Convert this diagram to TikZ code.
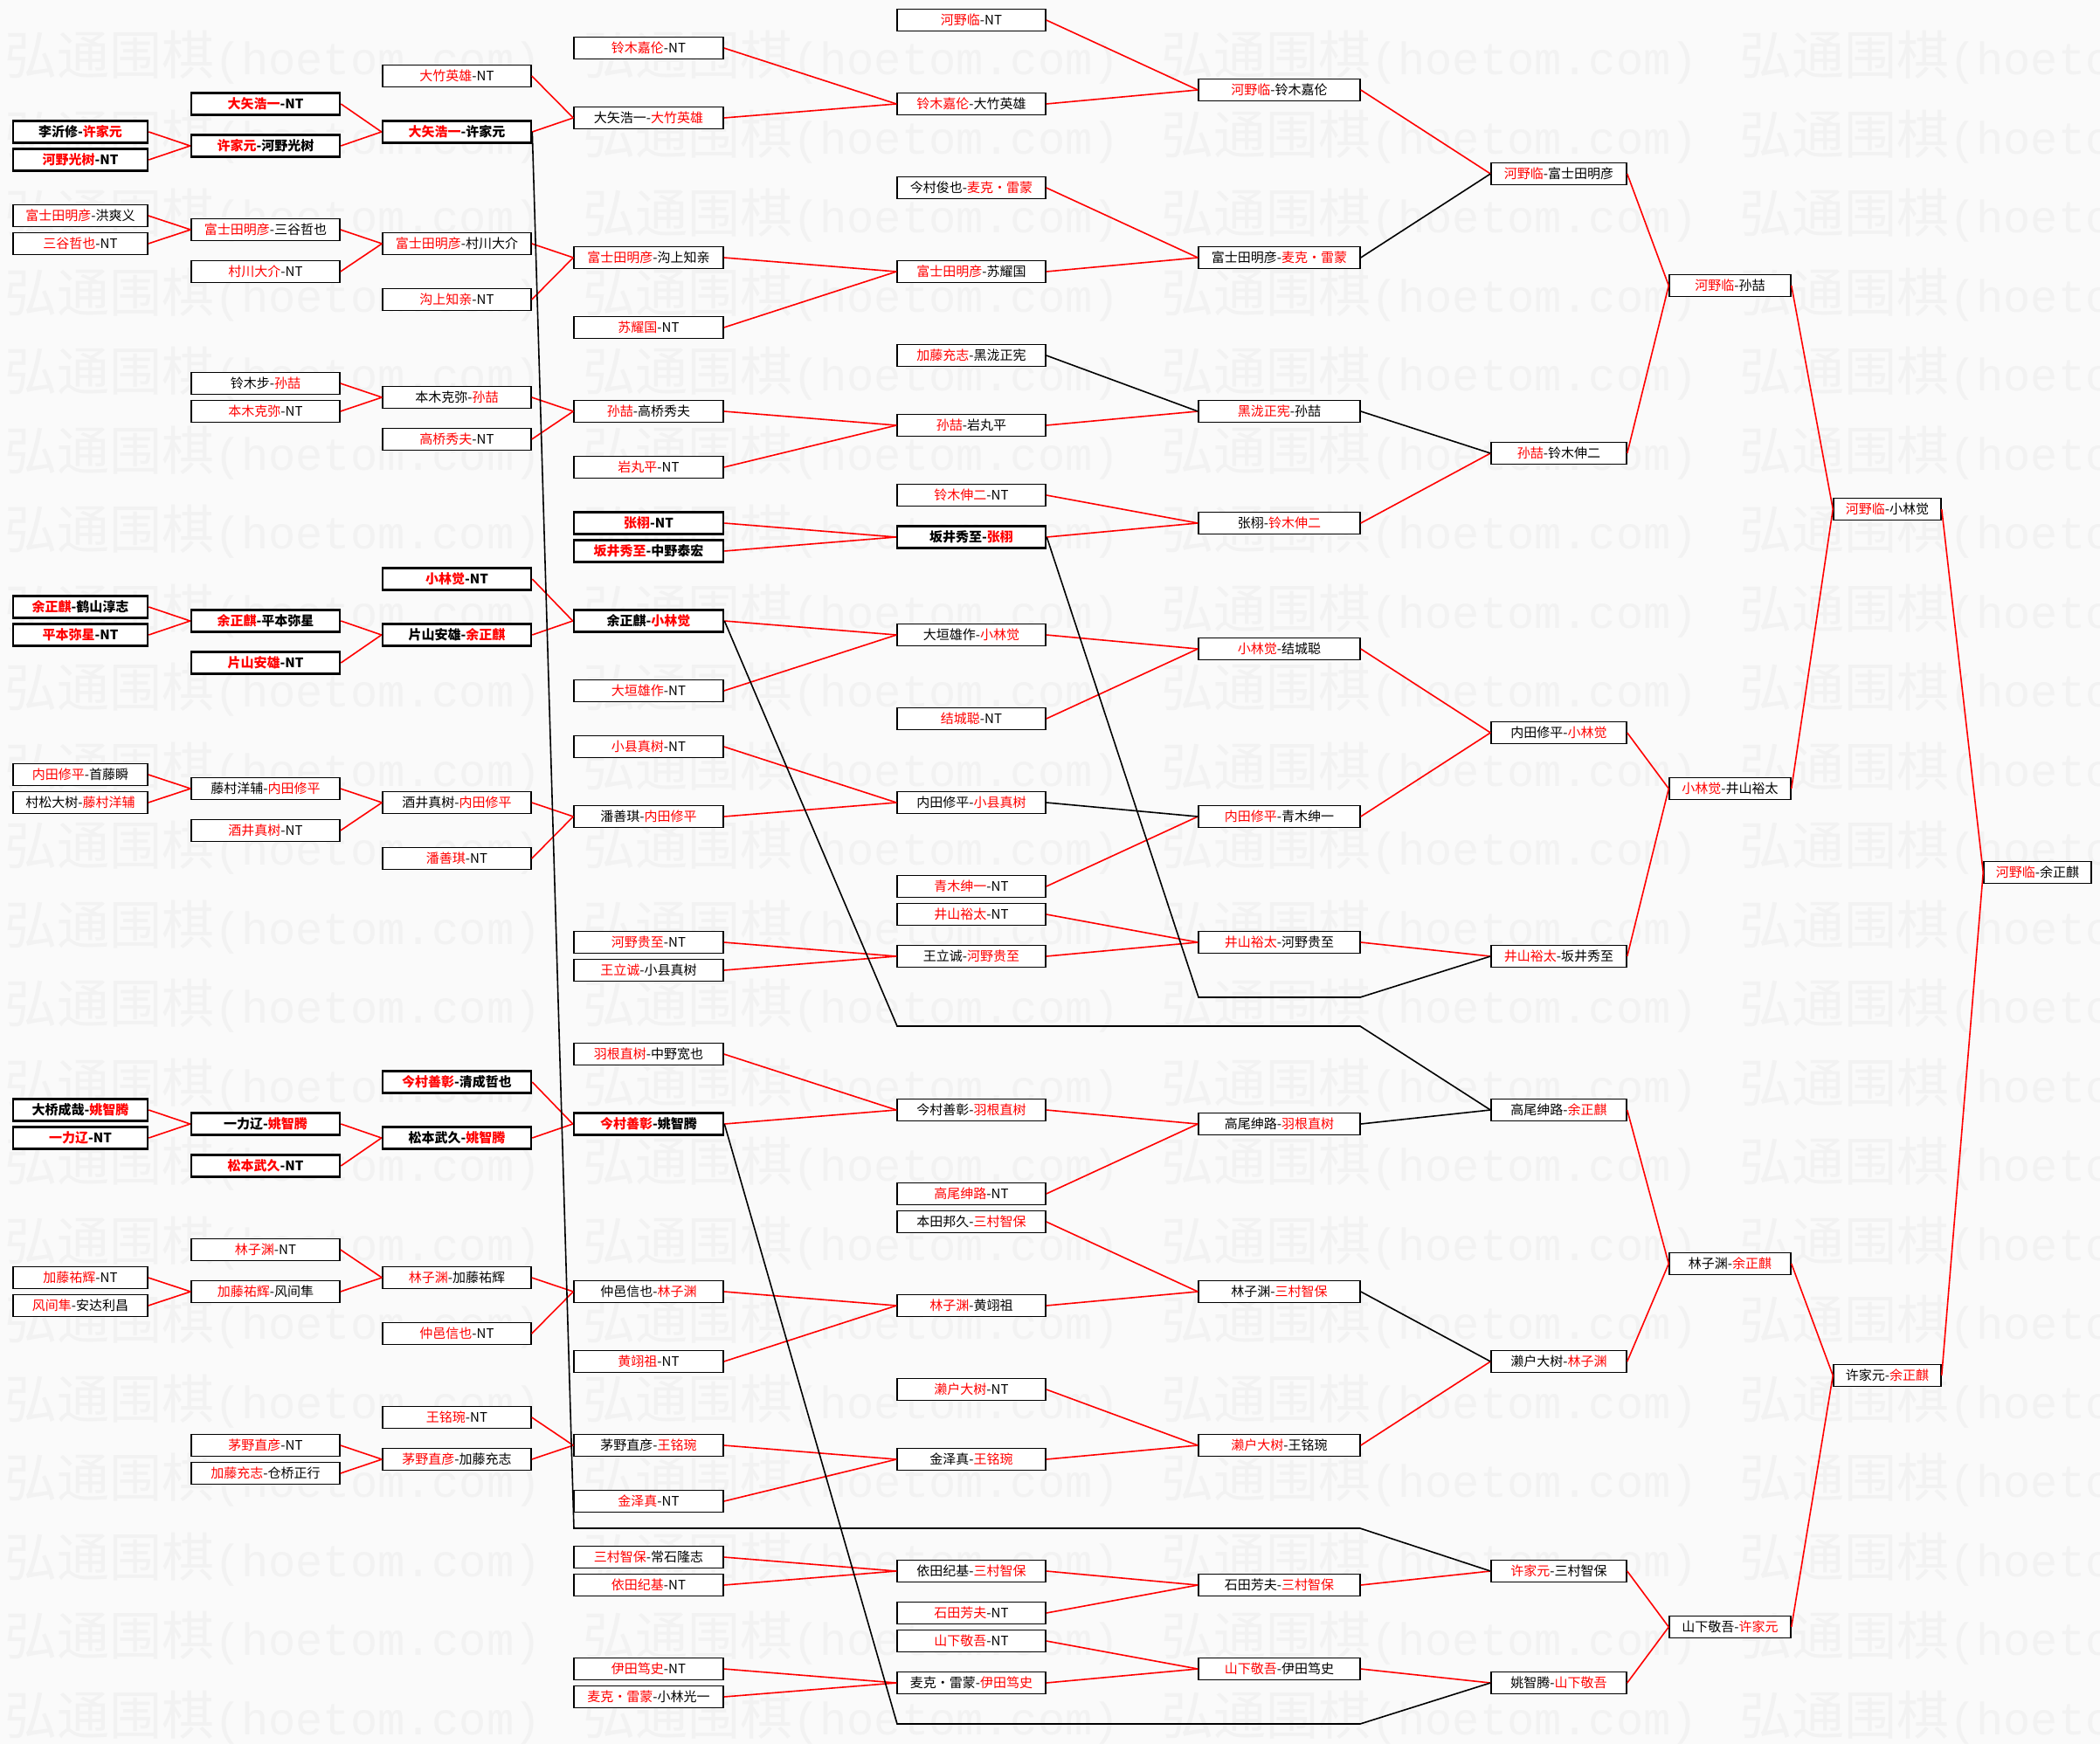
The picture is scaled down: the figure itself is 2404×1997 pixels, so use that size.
\documentclass[tikz,border=0pt]{standalone}
\usepackage{fontspec}
\setmainfont{Noto Sans CJK SC}
\newfontfamily\wmcjk{Noto Sans CJK SC}
\newfontfamily\wmmono{Liberation Mono}
\usepackage{tikz}
\newcommand{\redname}[1]{\textcolor{red}{#1}}
\tikzset{
x=1pt, y=-1pt, % one unit is one pixel of the page
game/.style={draw, line width=1.5pt, fill=white, minimum height=25pt, inner sep=0pt, font=\fontsize{15}{15}\selectfont}, % every match box
seed/.style={line width=2.6pt, font=\fontsize{15}{15}\selectfont\bfseries}, % boxes drawn bold
rnd1/.style={game, minimum width=154pt},
rnd2/.style={game, minimum width=170pt},
rnd3/.style={game, minimum width=170pt},
rnd4/.style={game, minimum width=171pt},
rnd5/.style={game, minimum width=170pt},
rnd6/.style={game, minimum width=185pt},
rnd7/.style={game, minimum width=155pt},
rnd8/.style={game, minimum width=139pt},
rnd9/.style={game, minimum width=123pt},
win/.style={red, line width=1.6pt}, % winner goes on
lose/.style={black, line width=1.6pt}, % loser comes back
wmark/.style={black!5, anchor=west, inner sep=0pt},
}
\begin{document}
\begin{tikzpicture}
\useasboundingbox (0,0) rectangle (2404,1997);
\fill[black!2] (0,0) rectangle (2404,1997);
\begin{scope}
\clip (0,0) rectangle (2404,1997);
\foreach \r in {0,...,21}
  \foreach \c in {0,...,3}
    \node[wmark] at (5+662*\c, 66+90.5*\r) {\fontsize{60}{60}\wmcjk 弘通围棋\fontsize{52}{52}\wmmono (hoetom.com)};
\end{scope}

% round 1
\node[rnd1, seed] (a1) at (92,151) {李沂修-\redname{许家元}};
\node[rnd1, seed] (a2) at (92,183) {\redname{河野光树}-NT};
\node[rnd1] (a3) at (92,247) {\redname{富士田明彦}-洪爽义};
\node[rnd1] (a4) at (92,279) {\redname{三谷哲也}-NT};
\node[rnd1, seed] (a5) at (92,695) {\redname{余正麒}-鹤山淳志};
\node[rnd1, seed] (a6) at (92,727) {\redname{平本弥星}-NT};
\node[rnd1] (a7) at (92,887) {\redname{内田修平}-首藤瞬};
\node[rnd1] (a8) at (92,919) {村松大树-\redname{藤村洋辅}};
\node[rnd1, seed] (a9) at (92,1271) {大桥成哉-\redname{姚智腾}};
\node[rnd1, seed] (a10) at (92,1303) {\redname{一力辽}-NT};
\node[rnd1] (a11) at (92,1463) {\redname{加藤祐辉}-NT};
\node[rnd1] (a12) at (92,1495) {\redname{风间隼}-安达利昌};

% round 2
\node[rnd2, seed] (b1) at (304,119) {\redname{大矢浩一}-NT};
\node[rnd2, seed] (b2) at (304,167) {\redname{许家元}-河野光树};
\node[rnd2] (b3) at (304,263) {\redname{富士田明彦}-三谷哲也};
\node[rnd2] (b4) at (304,311) {\redname{村川大介}-NT};
\node[rnd2] (b5) at (304,439) {铃木步-\redname{孙喆}};
\node[rnd2] (b6) at (304,471) {\redname{本木克弥}-NT};
\node[rnd2, seed] (b7) at (304,711) {\redname{余正麒}-平本弥星};
\node[rnd2, seed] (b8) at (304,759) {\redname{片山安雄}-NT};
\node[rnd2] (b9) at (304,903) {藤村洋辅-\redname{内田修平}};
\node[rnd2] (b10) at (304,951) {\redname{酒井真树}-NT};
\node[rnd2, seed] (b11) at (304,1287) {一力辽-\redname{姚智腾}};
\node[rnd2, seed] (b12) at (304,1335) {\redname{松本武久}-NT};
\node[rnd2] (b13) at (304,1431) {\redname{林子渊}-NT};
\node[rnd2] (b14) at (304,1479) {\redname{加藤祐辉}-风间隼};
\node[rnd2] (b15) at (304,1655) {\redname{茅野直彦}-NT};
\node[rnd2] (b16) at (304,1687) {\redname{加藤充志}-仓桥正行};

% round 3
\node[rnd3] (c1) at (523,87) {\redname{大竹英雄}-NT};
\node[rnd3, seed] (c2) at (523,151) {\redname{大矢浩一}-许家元};
\node[rnd3] (c3) at (523,279) {\redname{富士田明彦}-村川大介};
\node[rnd3] (c4) at (523,343) {\redname{沟上知亲}-NT};
\node[rnd3] (c5) at (523,455) {本木克弥-\redname{孙喆}};
\node[rnd3] (c6) at (523,503) {\redname{高桥秀夫}-NT};
\node[rnd3, seed] (c7) at (523,663) {\redname{小林觉}-NT};
\node[rnd3, seed] (c8) at (523,727) {片山安雄-\redname{余正麒}};
\node[rnd3] (c9) at (523,919) {酒井真树-\redname{内田修平}};
\node[rnd3] (c10) at (523,983) {\redname{潘善琪}-NT};
\node[rnd3, seed] (c11) at (523,1239) {\redname{今村善彰}-清成哲也};
\node[rnd3, seed] (c12) at (523,1303) {松本武久-\redname{姚智腾}};
\node[rnd3] (c13) at (523,1463) {\redname{林子渊}-加藤祐辉};
\node[rnd3] (c14) at (523,1527) {\redname{仲邑信也}-NT};
\node[rnd3] (c15) at (523,1623) {\redname{王铭琬}-NT};
\node[rnd3] (c16) at (523,1671) {\redname{茅野直彦}-加藤充志};

% round 4
\node[rnd4] (d1) at (742.5,55) {\redname{铃木嘉伦}-NT};
\node[rnd4] (d2) at (742.5,135) {大矢浩一-\redname{大竹英雄}};
\node[rnd4] (d3) at (742.5,295) {\redname{富士田明彦}-沟上知亲};
\node[rnd4] (d4) at (742.5,375) {\redname{苏耀国}-NT};
\node[rnd4] (d5) at (742.5,471) {\redname{孙喆}-高桥秀夫};
\node[rnd4] (d6) at (742.5,535) {\redname{岩丸平}-NT};
\node[rnd4, seed] (d7) at (742.5,599) {\redname{张栩}-NT};
\node[rnd4, seed] (d8) at (742.5,631) {\redname{坂井秀至}-中野泰宏};
\node[rnd4, seed] (d9) at (742.5,711) {余正麒-\redname{小林觉}};
\node[rnd4] (d10) at (742.5,791) {\redname{大垣雄作}-NT};
\node[rnd4] (d11) at (742.5,855) {\redname{小县真树}-NT};
\node[rnd4] (d12) at (742.5,935) {潘善琪-\redname{内田修平}};
\node[rnd4] (d13) at (742.5,1079) {\redname{河野贵至}-NT};
\node[rnd4] (d14) at (742.5,1111) {\redname{王立诚}-小县真树};
\node[rnd4] (d15) at (742.5,1207) {\redname{羽根直树}-中野宽也};
\node[rnd4, seed] (d16) at (742.5,1287) {\redname{今村善彰}-姚智腾};
\node[rnd4] (d17) at (742.5,1479) {仲邑信也-\redname{林子渊}};
\node[rnd4] (d18) at (742.5,1559) {\redname{黄翊祖}-NT};
\node[rnd4] (d19) at (742.5,1655) {茅野直彦-\redname{王铭琬}};
\node[rnd4] (d20) at (742.5,1719) {\redname{金泽真}-NT};
\node[rnd4] (d21) at (742.5,1783) {\redname{三村智保}-常石隆志};
\node[rnd4] (d22) at (742.5,1815) {\redname{依田纪基}-NT};
\node[rnd4] (d23) at (742.5,1911) {\redname{伊田笃史}-NT};
\node[rnd4] (d24) at (742.5,1943) {\redname{麦克・雷蒙}-小林光一};

% round 5
\node[rnd5] (e1) at (1112,23) {\redname{河野临}-NT};
\node[rnd5] (e2) at (1112,119) {\redname{铃木嘉伦}-大竹英雄};
\node[rnd5] (e3) at (1112,215) {今村俊也-\redname{麦克・雷蒙}};
\node[rnd5] (e4) at (1112,311) {\redname{富士田明彦}-苏耀国};
\node[rnd5] (e5) at (1112,407) {\redname{加藤充志}-黑泷正宪};
\node[rnd5] (e6) at (1112,487) {\redname{孙喆}-岩丸平};
\node[rnd5] (e7) at (1112,567) {\redname{铃木伸二}-NT};
\node[rnd5, seed] (e8) at (1112,615) {坂井秀至-\redname{张栩}};
\node[rnd5] (e9) at (1112,727) {大垣雄作-\redname{小林觉}};
\node[rnd5] (e10) at (1112,823) {\redname{结城聪}-NT};
\node[rnd5] (e11) at (1112,919) {内田修平-\redname{小县真树}};
\node[rnd5] (e12) at (1112,1015) {\redname{青木绅一}-NT};
\node[rnd5] (e13) at (1112,1047) {\redname{井山裕太}-NT};
\node[rnd5] (e14) at (1112,1095) {王立诚-\redname{河野贵至}};
\node[rnd5] (e15) at (1112,1271) {今村善彰-\redname{羽根直树}};
\node[rnd5] (e16) at (1112,1367) {\redname{高尾绅路}-NT};
\node[rnd5] (e17) at (1112,1399) {本田邦久-\redname{三村智保}};
\node[rnd5] (e18) at (1112,1495) {\redname{林子渊}-黄翊祖};
\node[rnd5] (e19) at (1112,1591) {\redname{濑户大树}-NT};
\node[rnd5] (e20) at (1112,1671) {金泽真-\redname{王铭琬}};
\node[rnd5] (e21) at (1112,1799) {依田纪基-\redname{三村智保}};
\node[rnd5] (e22) at (1112,1847) {\redname{石田芳夫}-NT};
\node[rnd5] (e23) at (1112,1879) {\redname{山下敬吾}-NT};
\node[rnd5] (e24) at (1112,1927) {麦克・雷蒙-\redname{伊田笃史}};

% round 6
\node[rnd6] (f1) at (1464.5,103) {\redname{河野临}-铃木嘉伦};
\node[rnd6] (f2) at (1464.5,295) {富士田明彦-\redname{麦克・雷蒙}};
\node[rnd6] (f3) at (1464.5,471) {\redname{黑泷正宪}-孙喆};
\node[rnd6] (f4) at (1464.5,599) {张栩-\redname{铃木伸二}};
\node[rnd6] (f5) at (1464.5,743) {\redname{小林觉}-结城聪};
\node[rnd6] (f6) at (1464.5,935) {\redname{内田修平}-青木绅一};
\node[rnd6] (f7) at (1464.5,1079) {\redname{井山裕太}-河野贵至};
\node[rnd6] (f8) at (1464.5,1287) {高尾绅路-\redname{羽根直树}};
\node[rnd6] (f9) at (1464.5,1479) {林子渊-\redname{三村智保}};
\node[rnd6] (f10) at (1464.5,1655) {\redname{濑户大树}-王铭琬};
\node[rnd6] (f11) at (1464.5,1815) {石田芳夫-\redname{三村智保}};
\node[rnd6] (f12) at (1464.5,1911) {\redname{山下敬吾}-伊田笃史};

% round 7
\node[rnd7] (g1) at (1784.5,199) {\redname{河野临}-富士田明彦};
\node[rnd7] (g2) at (1784.5,519) {\redname{孙喆}-铃木伸二};
\node[rnd7] (g3) at (1784.5,839) {内田修平-\redname{小林觉}};
\node[rnd7] (g4) at (1784.5,1095) {\redname{井山裕太}-坂井秀至};
\node[rnd7] (g5) at (1784.5,1271) {高尾绅路-\redname{余正麒}};
\node[rnd7] (g6) at (1784.5,1559) {濑户大树-\redname{林子渊}};
\node[rnd7] (g7) at (1784.5,1799) {\redname{许家元}-三村智保};
\node[rnd7] (g8) at (1784.5,1927) {姚智腾-\redname{山下敬吾}};

% round 8, 9 and final
\node[rnd8] (h1) at (1980.5,327) {\redname{河野临}-孙喆};
\node[rnd8] (h2) at (1980.5,903) {\redname{小林觉}-井山裕太};
\node[rnd8] (h3) at (1980.5,1447) {林子渊-\redname{余正麒}};
\node[rnd8] (h4) at (1980.5,1863) {山下敬吾-\redname{许家元}};
\node[rnd9] (i1) at (2160.5,583) {\redname{河野临}-小林觉};
\node[rnd9] (i2) at (2160.5,1575) {许家元-\redname{余正麒}};
\node[rnd9] (j1) at (2332.5,999) {\redname{河野临}-余正麒};

% bends of the long lines
\coordinate (xuA) at (657,1750);
\coordinate (xuB) at (1557,1750);
\coordinate (sakaiA) at (1372,1142);
\coordinate (sakaiB) at (1557,1142);
\coordinate (yuA) at (1027,1175);
\coordinate (yuB) at (1557,1175);
\coordinate (yaoA) at (1027,1974);
\coordinate (yaoB) at (1557,1974);

\draw[win] (a1.east) edge (b2.west) (a2.east) edge (b2.west)
      (a3.east) edge (b3.west) (a4.east) edge (b3.west)
      (a5.east) edge (b7.west) (a6.east) edge (b7.west)
      (a7.east) edge (b9.west) (a8.east) edge (b9.west)
      (a9.east) edge (b11.west) (a10.east) edge (b11.west)
      (a11.east) edge (b14.west) (a12.east) edge (b14.west);
\draw[win] (b1.east) edge (c2.west) (b2.east) edge (c2.west)
      (b3.east) edge (c3.west) (b4.east) edge (c3.west)
      (b5.east) edge (c5.west) (b6.east) edge (c5.west)
      (b7.east) edge (c8.west) (b8.east) edge (c8.west)
      (b9.east) edge (c9.west) (b10.east) edge (c9.west)
      (b11.east) edge (c12.west) (b12.east) edge (c12.west)
      (b13.east) edge (c13.west) (b14.east) edge (c13.west)
      (b15.east) edge (c16.west) (b16.east) edge (c16.west);
\draw[win] (c1.east) edge (d2.west) (c2.east) edge (d2.west)
      (c3.east) edge (d3.west) (c4.east) edge (d3.west)
      (c5.east) edge (d5.west) (c6.east) edge (d5.west)
      (c7.east) edge (d9.west) (c8.east) edge (d9.west)
      (c9.east) edge (d12.west) (c10.east) edge (d12.west)
      (c11.east) edge (d16.west) (c12.east) edge (d16.west)
      (c13.east) edge (d17.west) (c14.east) edge (d17.west)
      (c15.east) edge (d19.west) (c16.east) edge (d19.west);
\draw[win] (d1.east) edge (e2.west) (d2.east) edge (e2.west)
      (d3.east) edge (e4.west) (d4.east) edge (e4.west)
      (d5.east) edge (e6.west) (d6.east) edge (e6.west)
      (d7.east) edge (e8.west) (d8.east) edge (e8.west)
      (d9.east) edge (e9.west) (d10.east) edge (e9.west)
      (d11.east) edge (e11.west) (d12.east) edge (e11.west)
      (d13.east) edge (e14.west) (d14.east) edge (e14.west)
      (d15.east) edge (e15.west) (d16.east) edge (e15.west)
      (d17.east) edge (e18.west) (d18.east) edge (e18.west)
      (d19.east) edge (e20.west) (d20.east) edge (e20.west)
      (d21.east) edge (e21.west) (d22.east) edge (e21.west)
      (d23.east) edge (e24.west) (d24.east) edge (e24.west);
\draw[win] (e1.east) edge (f1.west) (e2.east) edge (f1.west)
      (e3.east) edge (f2.west) (e4.east) edge (f2.west)
      (e6.east) edge (f3.west)
      (e7.east) edge (f4.west) (e8.east) edge (f4.west)
      (e9.east) edge (f5.west) (e10.east) edge (f5.west)
      (e12.east) edge (f6.west)
      (e13.east) edge (f7.west) (e14.east) edge (f7.west)
      (e15.east) edge (f8.west) (e16.east) edge (f8.west)
      (e17.east) edge (f9.west) (e18.east) edge (f9.west)
      (e19.east) edge (f10.west) (e20.east) edge (f10.west)
      (e21.east) edge (f11.west) (e22.east) edge (f11.west)
      (e23.east) edge (f12.west) (e24.east) edge (f12.west);
\draw[lose] (e5.east) edge (f3.west) (e11.east) edge (f6.west);
\draw[win] (f1.east) edge (g1.west) (f4.east) edge (g2.west)
      (f5.east) edge (g3.west) (f6.east) edge (g3.west)
      (f7.east) edge (g4.west) (f10.east) edge (g6.west)
      (f11.east) edge (g7.west) (f12.east) edge (g8.west);
\draw[lose] (f2.east) edge (g1.west) (f3.east) edge (g2.west)
      (f8.east) edge (g5.west) (f9.east) edge (g6.west);
\draw[lose] (c2.east) -- (xuA) -- (xuB) -- (g7.west);
\draw[lose] (e8.east) -- (sakaiA) -- (sakaiB) -- (g4.west);
\draw[lose] (d9.east) -- (yuA) -- (yuB) -- (g5.west);
\draw[lose] (d16.east) -- (yaoA) -- (yaoB) -- (g8.west);
\draw[win] (g1.east) edge (h1.west) (g2.east) edge (h1.west)
      (g3.east) edge (h2.west) (g4.east) edge (h2.west)
      (g5.east) edge (h3.west) (g6.east) edge (h3.west)
      (g7.east) edge (h4.west) (g8.east) edge (h4.west);
\draw[win] (h1.east) edge (i1.west) (h2.east) edge (i1.west)
      (h3.east) edge (i2.west) (h4.east) edge (i2.west);
\draw[win] (i1.east) edge (j1.west) (i2.east) edge (j1.west);
\end{tikzpicture}
\end{document}
